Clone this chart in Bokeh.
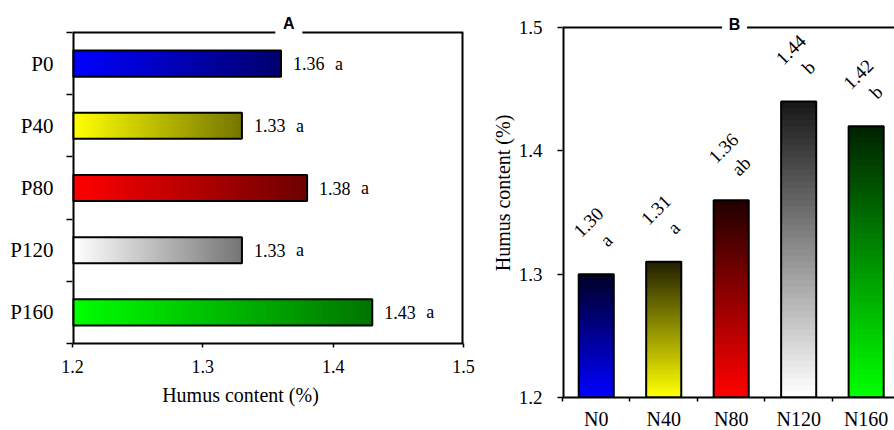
import numpy as np
from bokeh.plotting import figure
from bokeh.layouts import row
from bokeh.models import Range1d, FixedTicker
from bokeh.core.properties import value
from bokeh.embed import file_html
from bokeh.resources import INLINE

SERIF = "Liberation Serif"
SANS = "Liberation Sans"

# ---------------- data ----------------
p_categories = ["P0", "P40", "P80", "P120", "P160"]
p_values = [1.36, 1.33, 1.38, 1.33, 1.43]
p_letters = ["a", "a", "a", "a", "a"]

n_categories = ["N0", "N40", "N80", "N120", "N160"]
n_values = [1.30, 1.31, 1.36, 1.44, 1.42]
n_letters = ["a", "a", "ab", "b", "b"]

value_ticks = [1.2, 1.3, 1.4, 1.5]
base_value = 1.2

# gradient colours (light end -> dark end)
p_light = [(0, 0, 255), (255, 255, 0), (255, 0, 0), (255, 255, 255), (0, 255, 0)]
p_dark = [(0, 0, 110), (118, 118, 0), (110, 0, 0), (118, 118, 118), (0, 118, 0)]
n_light = [(0, 0, 255), (255, 255, 0), (255, 0, 0), (255, 255, 255), (0, 255, 0)]
n_dark = [(0, 0, 40), (35, 35, 0), (35, 0, 0), (25, 25, 25), (0, 35, 0)]

NSLICE = 48
NBSP = "\u00a0"


def mix(c1, c2, t):
    return "#%02x%02x%02x" % tuple(int(round(a + (b - a) * t)) for a, b in zip(c1, c2))


def style_axis(ax, size="18px"):
    ax.axis_line_width = 2
    ax.axis_line_color = "black"
    ax.major_tick_line_width = 1.5
    ax.minor_tick_line_width = 1.5
    ax.major_tick_line_color = "black"
    ax.minor_tick_line_color = "black"
    ax.major_label_text_font = SERIF
    ax.major_label_text_font_size = size
    ax.major_label_text_color = "black"
    ax.axis_label_text_font = SERIF
    ax.axis_label_text_font_style = "normal"
    ax.axis_label_text_font_size = "20px"
    ax.axis_label_text_color = "black"


# ---------------- panel A ----------------
idx_p = list(range(len(p_categories)))
cat_px = 311 / len(p_categories)
a_top_extra = 24 / cat_px
pa = figure(frame_width=391, frame_height=335, min_border_left=72, min_border_right=23,
            min_border_top=8, min_border_bottom=87, output_backend="svg",
            toolbar_location=None, x_range=Range1d(value_ticks[0], value_ticks[-1]),
            y_range=Range1d(len(p_categories) - 0.5, -0.5 - a_top_extra),
            x_axis_label="Humus content (%)" + NBSP * 11)
pa.outline_line_color = None
pa.grid.visible = False
pa.background_fill_color = "white"
pa.border_fill_color = "white"

bar_h = 0.42
ql, qr, qt, qb, qc = [], [], [], [], []
for i, v in enumerate(p_values):
    for k in range(NSLICE):
        ql.append(base_value + (v - base_value) * k / NSLICE)
        qr.append(v)
        qt.append(i - bar_h / 2)
        qb.append(i + bar_h / 2)
        qc.append(mix(p_light[i], p_dark[i], k / (NSLICE - 1)))
pa.quad(left=ql, right=qr, top=qt, bottom=qb, fill_color=qc, line_color=None)
pa.hbar(y=idx_p, left=base_value, right=p_values, height=bar_h, fill_color=None,
        line_color="black", line_width=2)
pa.text(x=p_values, y=idx_p, text=["%.2f" % v for v in p_values], x_offset=12,
        text_baseline="middle", text_align="left", text_font=value(SERIF),
        text_font_size="18px", text_color="black")
pa.text(x=p_values, y=idx_p, text=p_letters, x_offset=54,
        text_baseline="middle", text_align="left", text_font=value(SERIF),
        text_font_size="18px", text_color="black")

# frame lines (left, right, top with a gap for the panel letter)
top_a = -0.5
bot_a = len(p_categories) - 0.5
pa.segment(x0=[value_ticks[0], value_ticks[-1]], x1=[value_ticks[0], value_ticks[-1]],
           y0=[top_a, top_a], y1=[bot_a, bot_a], line_color="black", line_width=4)
pa.segment(x0=[value_ticks[0]], x1=[value_ticks[-1]], y0=[top_a], y1=[top_a],
           line_color="black", line_width=2)
a_title_x = 1.366
pa.rect(x=[a_title_x], y=[top_a], width=27, height=8, width_units="screen",
        height_units="screen", fill_color="white", line_color=None)
pa.text(x=[a_title_x], y=[top_a], text=["A"], y_offset=-9, text_align="center",
        text_baseline="middle", text_font=value(SANS), text_font_style="bold",
        text_font_size="16px", text_color="black")

xa = pa.xaxis[0]
style_axis(xa)
xa.ticker = FixedTicker(ticks=value_ticks, minor_ticks=[])
xa.major_tick_out = 4
xa.major_tick_in = 0
xa.major_label_standoff = 12
xa.axis_label_standoff = 8

ya = pa.yaxis[0]
style_axis(ya, "21px")
ya.axis_line_color = None
ya.ticker = FixedTicker(ticks=idx_p, minor_ticks=[i - 0.5 for i in range(len(p_categories) + 1)])
ya.major_label_overrides = {i: c for i, c in enumerate(p_categories)}
ya.major_tick_out = 0
ya.major_tick_in = 0
ya.minor_tick_out = 6
ya.minor_tick_in = 0
ya.major_label_standoff = 13

# ---------------- panel B ----------------
idx_n = list(range(len(n_categories)))
b_top_extra = 19 / (370 / 0.3)
pb = figure(frame_width=332, frame_height=389, min_border_left=76, min_border_right=0,
            min_border_top=8, min_border_bottom=33, output_backend="svg",
            toolbar_location=None, x_range=Range1d(-0.5, 4.42),
            y_range=Range1d(value_ticks[0], value_ticks[-1] + b_top_extra),
            y_axis_label=NBSP * 4 + "Humus content (%)")
pb.outline_line_color = None
pb.grid.visible = False
pb.background_fill_color = "white"
pb.border_fill_color = "white"

bar_w = 0.52
vl, vr, vt, vb, vc = [], [], [], [], []
for i, v in enumerate(n_values):
    for k in range(NSLICE):
        vl.append(i - bar_w / 2)
        vr.append(i + bar_w / 2)
        vb.append(base_value + (v - base_value) * k / NSLICE)
        vt.append(v)
        vc.append(mix(n_light[i], n_dark[i], k / (NSLICE - 1)))
pb.quad(left=vl, right=vr, top=vt, bottom=vb, fill_color=vc, line_color=None)
pb.vbar(x=idx_n, bottom=base_value, top=n_values, width=bar_w, fill_color=None,
        line_color="black", line_width=2)
pb.text(x=idx_n, y=n_values, text=["%.2f\n%s" % (v, l) for v, l in zip(n_values, n_letters)],
        angle=np.pi / 4, x_offset=1, y_offset=-43, text_align="center",
        text_baseline="middle", text_font=value(SERIF), text_font_size="19px",
        text_color="black")

# frame lines (left, top with a gap for the panel letter)
pb.segment(x0=[-0.5], x1=[-0.5], y0=[value_ticks[0]], y1=[value_ticks[-1]],
           line_color="black", line_width=4)
pb.segment(x0=[-0.5], x1=[4.42], y0=[value_ticks[-1]], y1=[value_ticks[-1]],
           line_color="black", line_width=2)
b_title_x = 2.05
pb.rect(x=[b_title_x], y=[value_ticks[-1]], width=25, height=8, width_units="screen",
        height_units="screen", fill_color="white", line_color=None)
pb.text(x=[b_title_x], y=[value_ticks[-1]], text=["B"], y_offset=-3.5, text_align="center",
        text_baseline="middle", text_font=value(SANS), text_font_style="bold",
        text_font_size="16px", text_color="black")

xb = pb.xaxis[0]
style_axis(xb, "20px")
xb.ticker = FixedTicker(ticks=idx_n, minor_ticks=[i - 0.5 for i in range(len(n_categories) + 1)])
xb.major_label_overrides = {i: c for i, c in enumerate(n_categories)}
xb.major_tick_out = 0
xb.major_tick_in = 0
xb.minor_tick_out = 4
xb.minor_tick_in = 0
xb.major_label_standoff = 6

yb = pb.yaxis[0]
style_axis(yb, "19px")
yb.axis_line_color = None
yb.ticker = FixedTicker(ticks=value_ticks, minor_ticks=[])
yb.major_tick_out = 5
yb.major_tick_in = 0
yb.major_label_standoff = 15
yb.axis_label_standoff = 2

layout = row(pa, pb, spacing=0)
open("out.html", "w").write(file_html(layout, INLINE))
